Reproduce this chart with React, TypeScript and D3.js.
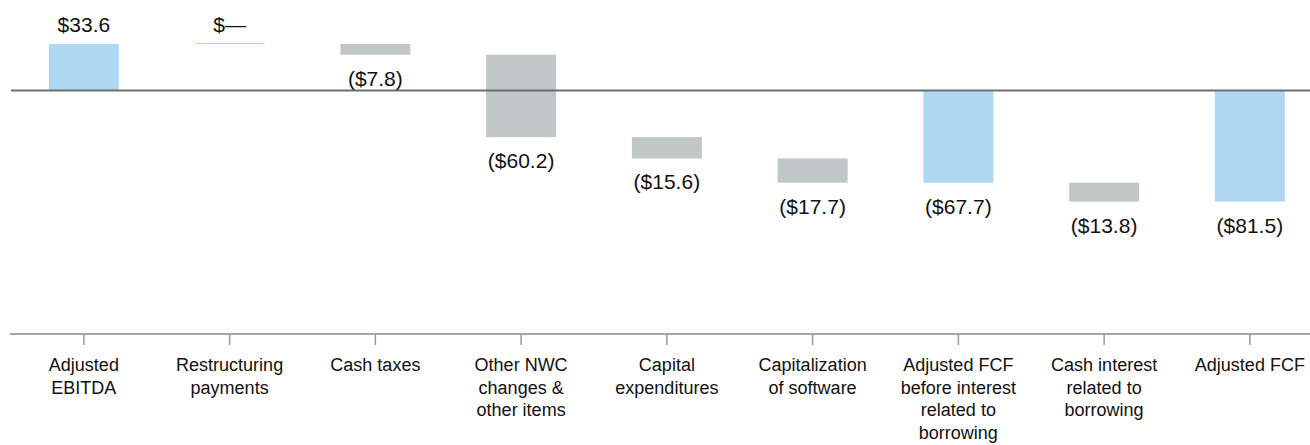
import React from "react";
import * as d3 from "d3";

const categories: string[][] = [
  ["Adjusted", "EBITDA"],
  ["Restructuring", "payments"],
  ["Cash taxes"],
  ["Other NWC", "changes &", "other items"],
  ["Capital", "expenditures"],
  ["Capitalization", "of software"],
  ["Adjusted FCF", "before interest", "related to", "borrowing"],
  ["Cash interest", "related to", "borrowing"],
  ["Adjusted FCF"],
];
const values: number[] = [33.6, 0, -7.8, -60.2, -15.6, -17.7, -67.7, -13.8, -81.5];
const kinds: string[] = ["total", "delta", "delta", "delta", "delta", "delta", "total", "delta", "total"];
const valueLabels: string[] = ["$33.6", "$—", "($7.8)", "($60.2)", "($15.6)", "($17.7)", "($67.7)", "($13.8)", "($81.5)"];

const W = 1310;
const H = 445;
const FONT = "'Liberation Sans', Arial, Helvetica, sans-serif";
const BLUE = "#AED7F1";
const GRAY = "#C1C6C6";
const YELLOW = "#F5D33A";

export default function App() {
  const keys = categories.map((_, i) => String(i));
  const x = d3.scalePoint<string>().domain(keys).range([11, 1322.75]).padding(0.5);
  const y = d3.scaleLinear().domain([-178.2, 50]).range([334, 90 - 50 * (46 / 33.6)]);
  const barW = 70;

  let cum = 0;
  const bars = values.map((v, i) => {
    let y0: number, y1: number;
    if (kinds[i] === "total") {
      y0 = 0;
      y1 = v;
      cum = v;
    } else {
      y0 = cum;
      y1 = cum + v;
      cum = y1;
    }
    return { i, v, y0, y1, kind: kinds[i] };
  });

  React.useEffect(() => {
    document.body.style.margin = "0";
  }, []);

  return (
    <svg width={W} height={H} style={{ display: "block", position: "absolute", left: 0, top: 0 }} fontFamily={FONT}>
      <rect x={0} y={0} width={W} height={H} fill="#fff" />
      {bars.map((b) => {
        const cx = x(String(b.i))!;
        const top = y(Math.max(b.y0, b.y1));
        const bot = y(Math.min(b.y0, b.y1));
        if (b.v === 0) {
          return (
            <line key={"b" + b.i} x1={cx - barW / 2} x2={cx + barW / 2} y1={y(b.y0) - 0.5} y2={y(b.y0) - 0.5} stroke={YELLOW} strokeWidth={1.2} />
          );
        }
        return (
          <rect key={"b" + b.i} x={cx - barW / 2} y={top} width={barW} height={bot - top} fill={b.kind === "total" ? BLUE : GRAY} />
        );
      })}
      <line x1={11} x2={W} y1={y(0) + 0.5} y2={y(0) + 0.5} stroke="#6f6f6f" strokeWidth={2} />
      {bars.map((b) => {
        const cx = x(String(b.i))!;
        const top = y(Math.max(b.y0, b.y1));
        const bot = y(Math.min(b.y0, b.y1));
        const ty = b.v >= 0 ? top - 12 : bot + 31;
        return (
          <text key={"v" + b.i} x={cx} y={ty} textAnchor="middle" fontSize={21} fill="#111">
            {valueLabels[b.i]}
          </text>
        );
      })}
      <line x1={10} x2={W} y1={y.range()[0]} y2={y.range()[0]} stroke="#a6a6a6" strokeWidth={2} />
      {categories.map((lines, i) => {
        const cx = x(String(i))!;
        return (
          <g key={"c" + i}>
            <line x1={cx} x2={cx} y1={334} y2={345} stroke="#9a9a9a" strokeWidth={1.5} />
            <text x={cx} y={371} textAnchor="middle" fontSize={18} fill="#111">
              {lines.map((l, j) => (
                <tspan key={j} x={cx} dy={j === 0 ? 0 : 22.5}>
                  {l}
                </tspan>
              ))}
            </text>
          </g>
        );
      })}
    </svg>
  );
}
